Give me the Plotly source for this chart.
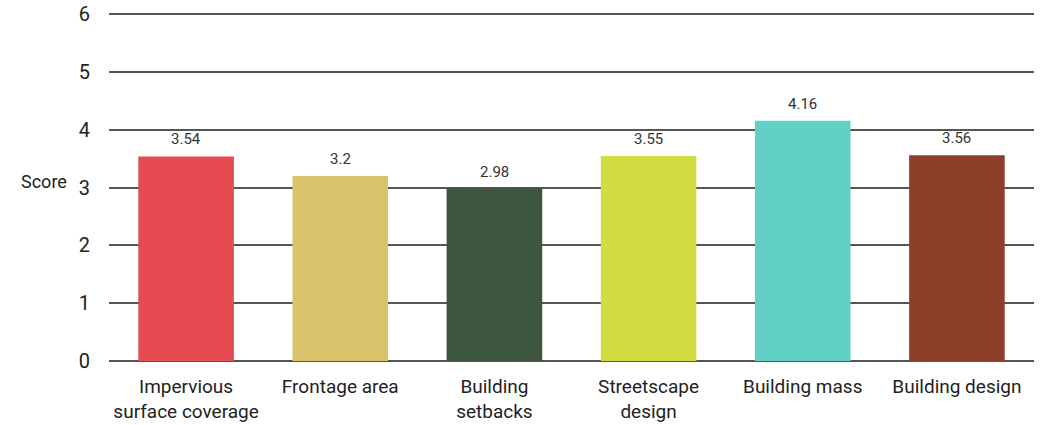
import plotly.graph_objects as go

categories = ["Impervious<br>surface coverage", "Frontage area", "Building<br>setbacks",
              "Streetscape<br>design", "Building mass", "Building design"]
scores = [3.54, 3.2, 2.98, 3.55, 4.16, 3.56]
score_labels = ["3.54", "3.2", "2.98", "3.55", "4.16", "3.56"]
colors = ["#E64A52", "#D8C26A", "#3D553E", "#D1DB42", "#62D0C5", "#8E3F2A"]
y_ticks = [0, 1, 2, 3, 4, 5, 6]

FONT = "Roboto, sans-serif"

fig = go.Figure(go.Bar(
    x=categories, y=scores, marker=dict(color=colors, line=dict(width=0)),
    width=0.62, hoverinfo="x+y",
))

annotations = [dict(x=c, y=v, text=t, xref="x", yref="y", yanchor="bottom", yshift=6,
                    showarrow=False, font=dict(size=15, color="#333333", family=FONT))
               for c, v, t in zip(categories, scores, score_labels)]
annotations.append(dict(text="Score", x=0, xref="paper", xanchor="right", xshift=-40,
                        y=3, yref="y", yshift=6, showarrow=False,
                        font=dict(size=18, color="#222222", family=FONT)))

fig.update_layout(
    width=1043, height=425,
    margin=dict(l=109, r=9, t=12, b=64, autoexpand=False),
    paper_bgcolor="white", plot_bgcolor="white",
    showlegend=False,
    font=dict(family=FONT, color="#222222"),
    xaxis=dict(tickfont=dict(size=19, color="#222222"), showgrid=False, showline=False,
               ticks="", ticklabelstandoff=12, fixedrange=True, automargin=False),
    yaxis=dict(range=[0, 6.04], tickvals=y_ticks, tickfont=dict(size=20, color="#222222"),
               showgrid=True, gridcolor="#555555", gridwidth=2, zeroline=True,
               zerolinecolor="#555555", zerolinewidth=2, ticks="", ticklabelstandoff=18,
               layer="below traces", automargin=False),
    annotations=annotations,
    bargap=0.38,
)

fig.write_html("out.html")
